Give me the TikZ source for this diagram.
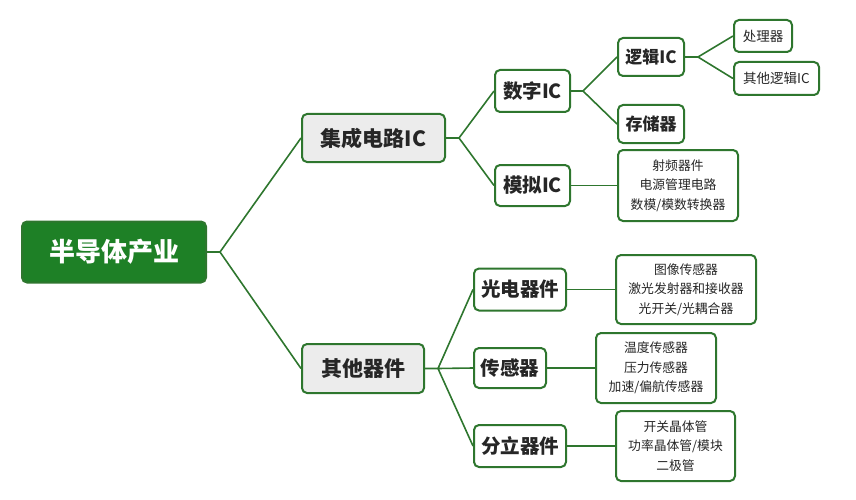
\documentclass[tikz,border=0pt]{standalone}
\usepackage{fontspec}
\setmainfont{Noto Sans CJK SC}
\usetikzlibrary{positioning}
\definecolor{linegreen}{RGB}{46,118,46}
\definecolor{rootgreen}{RGB}{30,128,38}
\definecolor{boxgray}{RGB}{236,236,236}
\newcommand\fs[2]{\fontsize{#1}{#2}\selectfont}
\tikzset{
  box/.style = {draw = linegreen, line width = 2pt, rounded corners = 5pt,
    fill = white, inner sep = 0pt, align = center, text = black!85},
  rootbox/.style = {box, fill = rootgreen, text = white,
    font = \bfseries\fs{26}{30}},
  topbox/.style = {box, fill = boxgray, font = \bfseries\fs{21}{25}},
  midbox/.style = {box, font = \bfseries\fs{19.5}{23}},
  subbox/.style = {box, font = \bfseries\fs{17}{20}},
  leafbox/.style = {box, font = \fs{13.5}{16}},
  listbox/.style = {box, font = \fs{12.8}{19.5}},
  link/.style = {draw = linegreen, line width = 1.6pt}
}
\begin{document}
\begin{tikzpicture}[x = 1pt, y = -1pt]
  \useasboundingbox (0,0) rectangle (856,500);
  % root and first level
  \node [rootbox, minimum width = 184pt, minimum height = 61pt]
    (root) at (114,252) {半导体产业};
  \node [topbox, minimum width = 143pt, minimum height = 48pt]
    (ic) at (373.5,138) {集成电路IC};
  \node [topbox, minimum width = 122pt, minimum height = 49pt]
    (other) at (363,368.5) {其他器件};
  % integrated circuits
  \node [midbox, minimum width = 75pt, minimum height = 42pt]
    (digital) at (532.5,91) {数字IC};
  \node [midbox, minimum width = 75pt, minimum height = 41pt]
    (analog) at (532.5,185.5) {模拟IC};
  \node [subbox, minimum width = 66pt, minimum height = 38pt]
    (logic) at (651,57) {逻辑IC};
  \node [subbox, minimum width = 66pt, minimum height = 38pt]
    (memory) at (651,124) {存储器};
  \node [leafbox, minimum width = 58pt, minimum height = 32pt]
    (cpu) at (763,36) {处理器};
  \node [leafbox, minimum width = 85pt, minimum height = 33pt]
    (otherlogic) at (776.5,78.5) {其他逻辑IC};
  \node [listbox, minimum width = 120pt, minimum height = 71pt]
    (analoglist) at (678,185.5) {射频器件\\电源管理电路\\数模/模数转换器};
  % other devices
  \node [midbox, minimum width = 92pt, minimum height = 42pt]
    (opto) at (520,289.5) {光电器件};
  \node [midbox, minimum width = 72pt, minimum height = 40pt]
    (sensor) at (510,368) {传感器};
  \node [midbox, minimum width = 92pt, minimum height = 42pt]
    (discrete) at (520,446) {分立器件};
  \node [listbox, minimum width = 140pt, minimum height = 69pt]
    (optolist) at (686,289.5) {图像传感器\\激光发射器和接收器\\光开关/光耦合器};
  \node [listbox, minimum width = 120pt, minimum height = 70pt]
    (sensorlist) at (656,368) {温度传感器\\压力传感器\\加速/偏航传感器};
  \node [listbox, minimum width = 119pt, minimum height = 70pt]
    (discretelist) at (675.5,446) {开关晶体管\\功率晶体管/模块\\二极管};
  % connectors
  \draw [link] (root.east) -- ++(13,0) coordinate (j0) -- (ic.west)
    (j0) -- (other.west);
  \draw [link] (ic.east) -- ++(13,0) coordinate (j1) -- (digital.west)
    (j1) -- (analog.west);
  \draw [link] (digital.east) -- ++(12,0) coordinate (j2) -- (logic.west)
    (j2) -- (memory.west);
  \draw [link] (logic.east) -- ++(13,0) coordinate (j3) -- (cpu.west)
    (j3) -- (otherlogic.west);
  \draw [link] (analog.east) -- (analoglist.west);
  \draw [link] (other.east) -- ++(13,0) coordinate (j4) -- (opto.west)
    (j4) -- (sensor.west) (j4) -- (discrete.west);
  \draw [link] (opto.east) -- (optolist.west);
  \draw [link] (sensor.east) -- (sensorlist.west);
  \draw [link] (discrete.east) -- (discretelist.west);
\end{tikzpicture}
\end{document}
